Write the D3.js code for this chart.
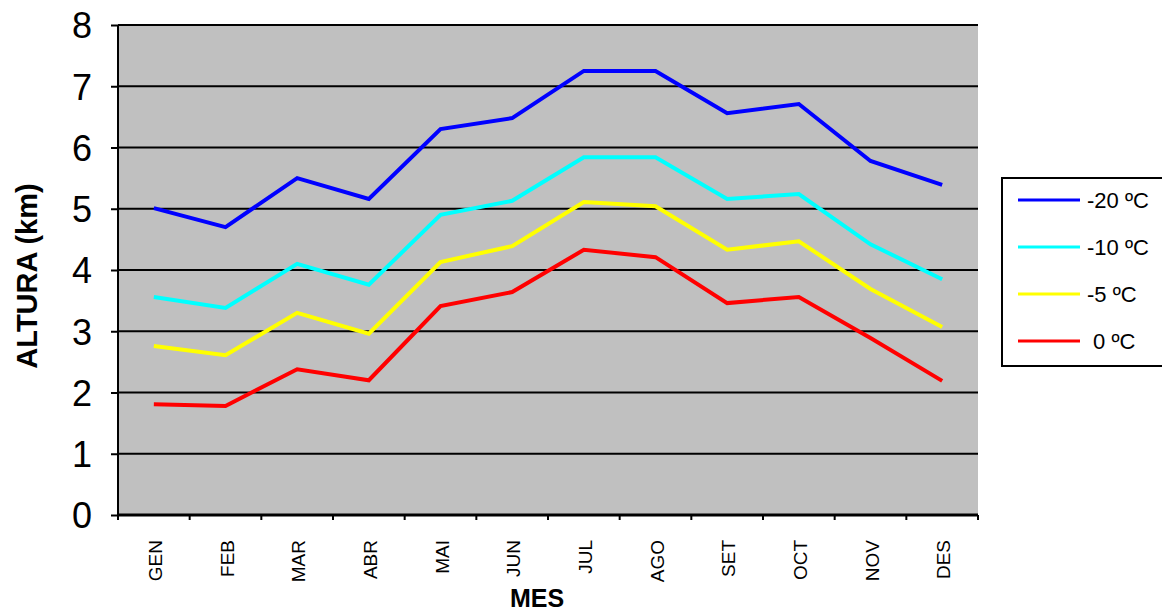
<!DOCTYPE html>
<meta charset="utf-8">
<head>
  <title>Altura isotermes</title>
  <script src="https://d3js.org/d3.v7.min.js"></script>
  <style>
    body { margin: 0; background: white; font-family: "Liberation Sans", Arial, sans-serif; }
    .grid line { stroke: black; stroke-width: 2; }
    .y text { font-size: 36px; font-family: "Liberation Sans", Arial, sans-serif; }
    .serie { fill: none; stroke-width: 4; stroke-linejoin: miter; }
  </style>
</head>
<body>
<script>
var mesos = ["GEN", "FEB", "MAR", "ABR", "MAI", "JUN", "JUL", "AGO", "SET", "OCT", "NOV", "DES"];
var yTicks = [0, 1, 2, 3, 4, 5, 6, 7, 8];
var etiquetes = ["-20 ºC", "-10 ºC", "-5 ºC", " 0 ºC"];
var colors = ["#0000ff", "#00ffff", "#ffff00", "#ff0000"];
var menys20 = [5.01, 4.70, 5.50, 5.16, 6.30, 6.48, 7.25, 7.25, 6.56, 6.71, 5.78, 5.39];
var menys10 = [3.56, 3.38, 4.10, 3.76, 4.90, 5.13, 5.84, 5.84, 5.16, 5.24, 4.42, 3.85];
var menys5 = [2.76, 2.61, 3.30, 2.96, 4.13, 4.39, 5.11, 5.04, 4.33, 4.47, 3.69, 3.07];
var zero = [1.81, 1.78, 2.38, 2.20, 3.41, 3.64, 4.33, 4.21, 3.46, 3.56, 2.89, 2.19];
var series = [menys20, menys10, menys5, zero];

var margin = {top: 25, right: 184, bottom: 98, left: 118};
var width = 1162 - margin.left - margin.right;
var height = 613 - margin.top - margin.bottom;

var svg = d3.select("body").append("svg")
  .attr("width", 1162)
  .attr("height", 613);

var g = svg.append("g")
  .attr("transform", "translate(" + margin.left + "," + margin.top + ")");

var x = d3.scaleBand().domain(mesos).range([0, width]);
var y = d3.scaleLinear().domain([0, 8]).range([height, 0]);

// fons gris
g.append("rect")
  .attr("width", width)
  .attr("height", height)
  .attr("fill", "#c0c0c0");

// linies de graella
g.append("g").attr("class", "grid")
  .selectAll("line")
  .data(yTicks.filter(function(d) { return d > 0; }))
  .enter().append("line")
  .attr("x1", 0).attr("x2", width)
  .attr("y1", function(d) { return y(d); })
  .attr("y2", function(d) { return y(d); });

// eix y
var yAxis = g.append("g").attr("class", "y")
  .call(d3.axisLeft(y).tickValues(yTicks).tickSize(7).tickPadding(19).tickFormat(d3.format("d")));
yAxis.select(".domain").attr("stroke-width", 2).attr("d", "M0," + y(8) + "V" + y(0));
yAxis.selectAll(".tick line").attr("stroke-width", 2);
yAxis.selectAll(".tick text").attr("dy", "0.36em");

// eix x
var xAxis = g.append("g").attr("class", "x")
  .attr("transform", "translate(0," + height + ")");
xAxis.append("line")
  .attr("x1", 0).attr("x2", width)
  .attr("stroke", "black").attr("stroke-width", 3);
xAxis.selectAll(".tk")
  .data(mesos.concat(["_"]))
  .enter().append("line")
  .attr("x1", function(d, i) { return i * x.bandwidth(); })
  .attr("x2", function(d, i) { return i * x.bandwidth(); })
  .attr("y1", 0).attr("y2", 5)
  .attr("stroke", "black").attr("stroke-width", 2);
xAxis.selectAll("text")
  .data(mesos)
  .enter().append("text")
  .attr("transform", function(d) {
    return "translate(" + (x(d) + x.bandwidth() / 2 + 8) + ",25) rotate(-90)";
  })
  .attr("text-anchor", "end")
  .style("font-size", "19px")
  .text(function(d) { return d; });

// series
var line = d3.line()
  .x(function(d, i) { return x(mesos[i]) + x.bandwidth() / 2; })
  .y(function(d) { return y(d); });

g.selectAll(".serie")
  .data(series)
  .enter().append("path")
  .attr("class", "serie")
  .attr("stroke", function(d, i) { return colors[i]; })
  .attr("d", line);

// titols dels eixos
svg.append("text")
  .attr("x", 537)
  .attr("y", 607)
  .attr("text-anchor", "middle")
  .attr("font-size", "25px")
  .attr("font-weight", "bold")
  .text("MES");

svg.append("text")
  .attr("transform", "translate(37,276) rotate(-90)")
  .attr("text-anchor", "middle")
  .attr("font-size", "29px")
  .attr("font-weight", "bold")
  .text("ALTURA (km)");

// llegenda
var leg = svg.append("g").attr("transform", "translate(1002,178)");
leg.append("rect")
  .attr("width", 170).attr("height", 188)
  .attr("fill", "white").attr("stroke", "black").attr("stroke-width", 2);
var item = leg.selectAll(".item")
  .data(etiquetes)
  .enter().append("g")
  .attr("transform", function(d, i) { return "translate(0," + (22 + i * 47) + ")"; });
item.append("line")
  .attr("x1", 16).attr("x2", 78)
  .attr("stroke", function(d, i) { return colors[i]; })
  .attr("stroke-width", 3);
item.append("text")
  .attr("x", 85).attr("dy", "0.36em")
  .attr("font-size", "22px")
  .style("white-space", "pre")
  .text(function(d) { return d; });
</script>
</body>
</html>
